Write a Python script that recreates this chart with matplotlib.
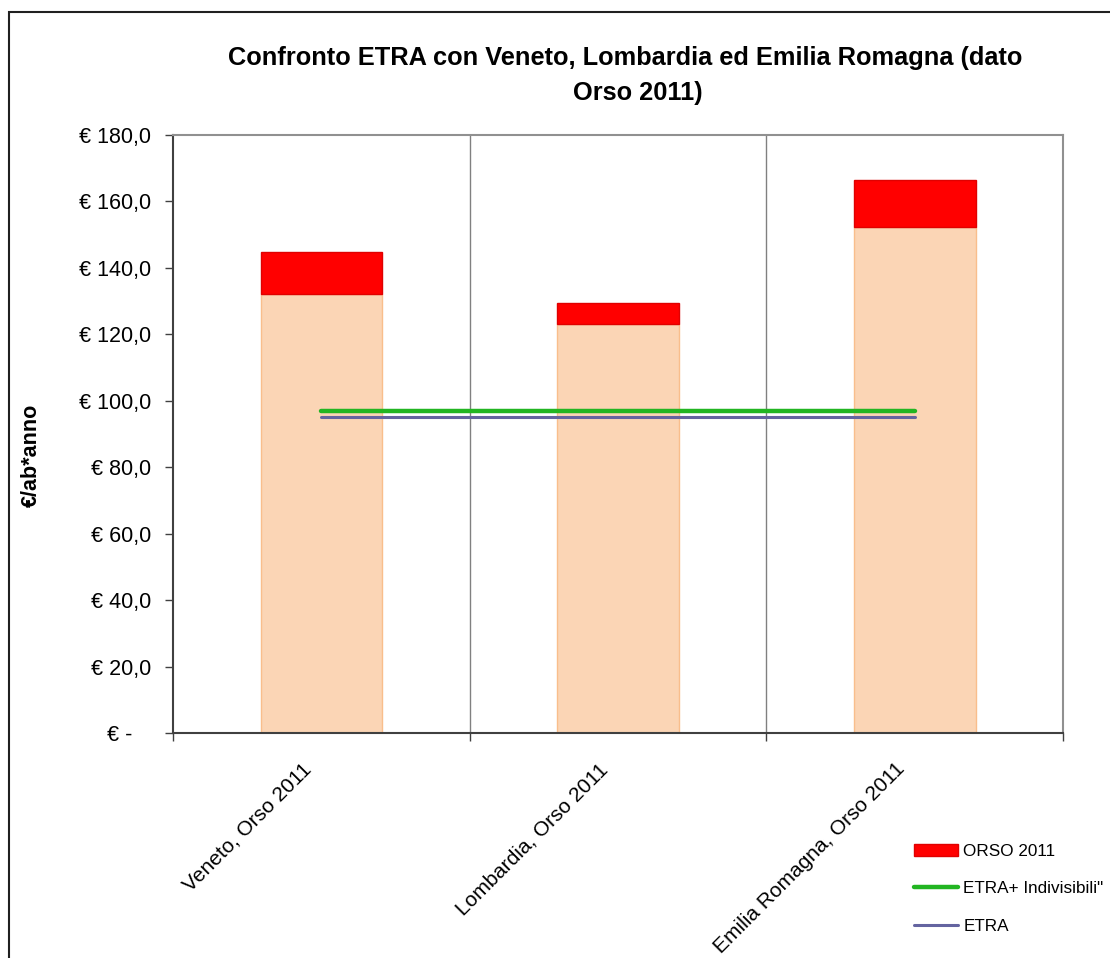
import numpy as np
import matplotlib.pyplot as plt
from matplotlib.patches import Rectangle
from matplotlib.transforms import ScaledTranslation

plt.rcParams['font.family'] = ['Liberation Sans', 'DejaVu Sans']

# data
categories = ["Veneto, Orso 2011", "Lombardia, Orso 2011", "Emilia Romagna, Orso 2011"]
base_values = [132.0, 123.1, 152.2]
orso_extra = [12.7, 6.3, 14.3]
etra_indivisibili = [97.0, 97.0, 97.0]
etra = [95.0, 95.0, 95.0]
y_ticks = [0, 20, 40, 60, 80, 100, 120, 140, 160, 180]

fig = plt.figure(figsize=(11.1, 9.58), dpi=100)
ax = fig.add_axes([0.1559, 0.2349, 0.8018, 0.6242])

x = np.arange(len(categories))
ax.bar(x, base_values, width=0.41, color="#FBD5B5", edgecolor="#F9BE8C", linewidth=1, zorder=2)
ax.bar(x, orso_extra, width=0.41, bottom=base_values, color="#FF0000", edgecolor="#E00000",
       linewidth=1, zorder=2, label="ORSO 2011")
ax.plot(x, etra_indivisibili, color="#22B522", lw=3.2, solid_capstyle="round", zorder=3,
        label='ETRA+ Indivisibili"')
ax.plot(x, etra, color="#6464A0", lw=2.2, solid_capstyle="round", zorder=3, label="ETRA")

ax.set_xlim(-0.5, 2.5)
ax.set_ylim(0, 180)

# category separators
for xv in [0.5, 1.5]:
    ax.axvline(xv, color="#808080", lw=1, zorder=1)

ax.set_xticks([-0.5, 0.5, 1.5, 2.5])
ax.set_xticklabels([])
ax.set_xticks(x, minor=True)
ax.set_xticklabels(categories, minor=True, rotation=45, ha="right", va="center",
                   rotation_mode="anchor", fontsize=15)
ax.tick_params(axis="x", which="minor", length=0, pad=24)
ax.tick_params(axis="x", which="major", length=6, width=1, color="#404040")
shift = ScaledTranslation(-0.13, 0, fig.dpi_scale_trans)
for lab in ax.get_xticklabels(minor=True):
    lab.set_transform(lab.get_transform() + shift)

ylabels = ["€ -   " if v == 0 else f"€ {v},0" for v in y_ticks]
ax.set_yticks(y_ticks)
ax.set_yticklabels(ylabels, fontsize=15.5)
ax.tick_params(axis="y", length=6, width=1, color="#404040", pad=10)

for side in ["left", "bottom"]:
    ax.spines[side].set_color("#404040")
    ax.spines[side].set_linewidth(1.5)
for side in ["top", "right"]:
    ax.spines[side].set_color("#909090")
    ax.spines[side].set_linewidth(1.5)

ax.set_ylabel("€/ab*anno", fontsize=15.5, fontweight="bold")
ax.yaxis.set_label_coords(-0.147, 0.465)

# title in two lines, second one sits a bit to the right as in the original
fig.text(0.563, 0.9395, "Confronto ETRA con Veneto, Lombardia ed Emilia Romagna (dato",
         ha="center", va="center", fontsize=18.3, fontweight="bold")
fig.text(0.575, 0.9029, "Orso 2011)",
         ha="center", va="center", fontsize=18.3, fontweight="bold")

handles, labels = ax.get_legend_handles_labels()
order = [2, 0, 1]
leg = fig.legend([handles[i] for i in order], [labels[i] for i in order],
                 loc="upper left", bbox_to_anchor=(0.81, 0.135), frameon=False,
                 fontsize=12.3, handlelength=2.55, labelspacing=1.31, handletextpad=0.3)

# outer frame of the chart
fig.patches.append(Rectangle((0.0081, -0.5), 1.5, 1.4875, transform=fig.transFigure,
                             fill=False, edgecolor="#202020", lw=1.5))

fig.savefig("out.png", dpi=100)
